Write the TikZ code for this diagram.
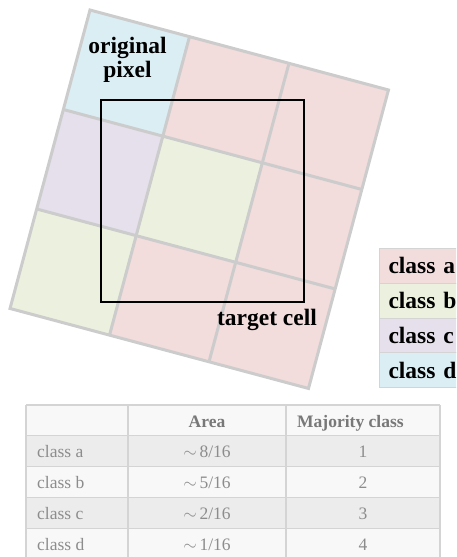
\documentclass[tikz,border=0pt]{standalone}
\usepackage{fontspec}
\setmainfont{Liberation Serif}
\definecolor{clsa}{RGB}{242,220,220}
\definecolor{clsb}{RGB}{235,241,222}
\definecolor{clsc}{RGB}{229,224,236}
\definecolor{clsd}{RGB}{219,238,244}
\definecolor{gridgray}{RGB}{204,204,204}
\definecolor{tabline}{RGB}{212,212,212}
\definecolor{tabdark}{RGB}{236,236,236}
\definecolor{tablight}{RGB}{248,248,248}
\definecolor{tabtext}{RGB}{140,140,140}
\definecolor{tabhead}{RGB}{120,120,120}

\begin{document}
\begin{tikzpicture}[x=1pt, y=1pt]
    \tikzset{cellline/.style={draw=gridgray, line width=3pt},
        lbl/.style={font=\fontsize{23.5}{24}\selectfont\bfseries,
            inner sep=0pt},
        legendbox/.style={draw=tabline, line width=1pt, anchor=north west,
            minimum width=100pt, minimum height=34.75pt, inner xsep=9pt,
            text width=82pt, align=left,
            font=\fontsize{23.5}{24}\selectfont\bfseries},
        tabcell/.style={font=\fontsize{17.5}{18}\selectfont, text=tabtext,
            inner sep=0pt},
        tabhd/.style={tabcell, font=\fontsize{17.5}{18}\selectfont\bfseries,
            text=tabhead}
    }
    \clip (0,0) rectangle (456,-557);
    % rotated original pixels
    \begin{scope}[shift={(90,-10)}, rotate=-15]
        \foreach \col/\row/\cls in {0/0/clsd, 1/0/clsa, 2/0/clsa,
            0/1/clsc, 1/1/clsb, 2/1/clsa, 0/2/clsb, 1/2/clsa, 2/2/clsa} {
            \fill[\cls] (103*\col, -103*\row) rectangle ++(103,-103);
        }
        \foreach \k in {1,2} {
            \draw[cellline] (103*\k, 0) -- (103*\k, -309);
            \draw[cellline] (0, -103*\k) -- (309, -103*\k);
        }
        \draw[cellline] (0,0) rectangle (309,-309);
    \end{scope}
    \node [lbl, align=center] (orig) at (127.5,-59.5) {original\\pixel};
    % target cell
    \node [draw, line width=2.8pt, minimum width=203pt,
        minimum height=202pt, inner sep=0pt] (target) at (202.5,-201) {};
    \node [lbl, anchor=base] (tcell) at (267,-325) {target cell};
    % legend
    \foreach \i/\cls/\name in {0/clsa/a, 1/clsb/b, 2/clsc/c, 3/clsd/d} {
        \node [legendbox, fill=\cls] (leg\name)
            at (379,-248-34.75*\i) {class \name};
    }
    % table rows
    \foreach \i/\cls in {0/tablight, 1/tabdark, 2/tablight,
        3/tabdark, 4/tablight} {
        \fill[\cls] (26,-405-30.8*\i) rectangle (440,-435.8-30.8*\i);
    }
    \foreach \i in {0,...,5} {
        \draw[tabline, line width=1.2pt] (26,-405-30.8*\i) -- (440,-405-30.8*\i);
    }
    \foreach \x in {26,128,286,440} {
        \draw[tabline, line width=1.2pt] (\x,-405) -- (\x,-560);
    }
    % header
    \node [tabhd, anchor=base] (harea) at (207,-427) {Area};
    \node [tabhd, anchor=base west] (hmaj) at (297,-427) {Majority class};
    % table body
    \foreach \i/\name/\frac/\rank in {1/a/8/1, 2/b/5/2, 3/c/2/3, 4/d/1/4} {
        \node [tabcell, anchor=base west] (row\name)
            at (37,-427-30.8*\i) {class \name};
        \node [tabcell, anchor=base] (area\name)
            at (207,-427-30.8*\i) {$\sim$\,\frac/16};
        \node [tabcell, anchor=base] (maj\name)
            at (363,-427-30.8*\i) {\rank};
    }
\end{tikzpicture}
\end{document}
